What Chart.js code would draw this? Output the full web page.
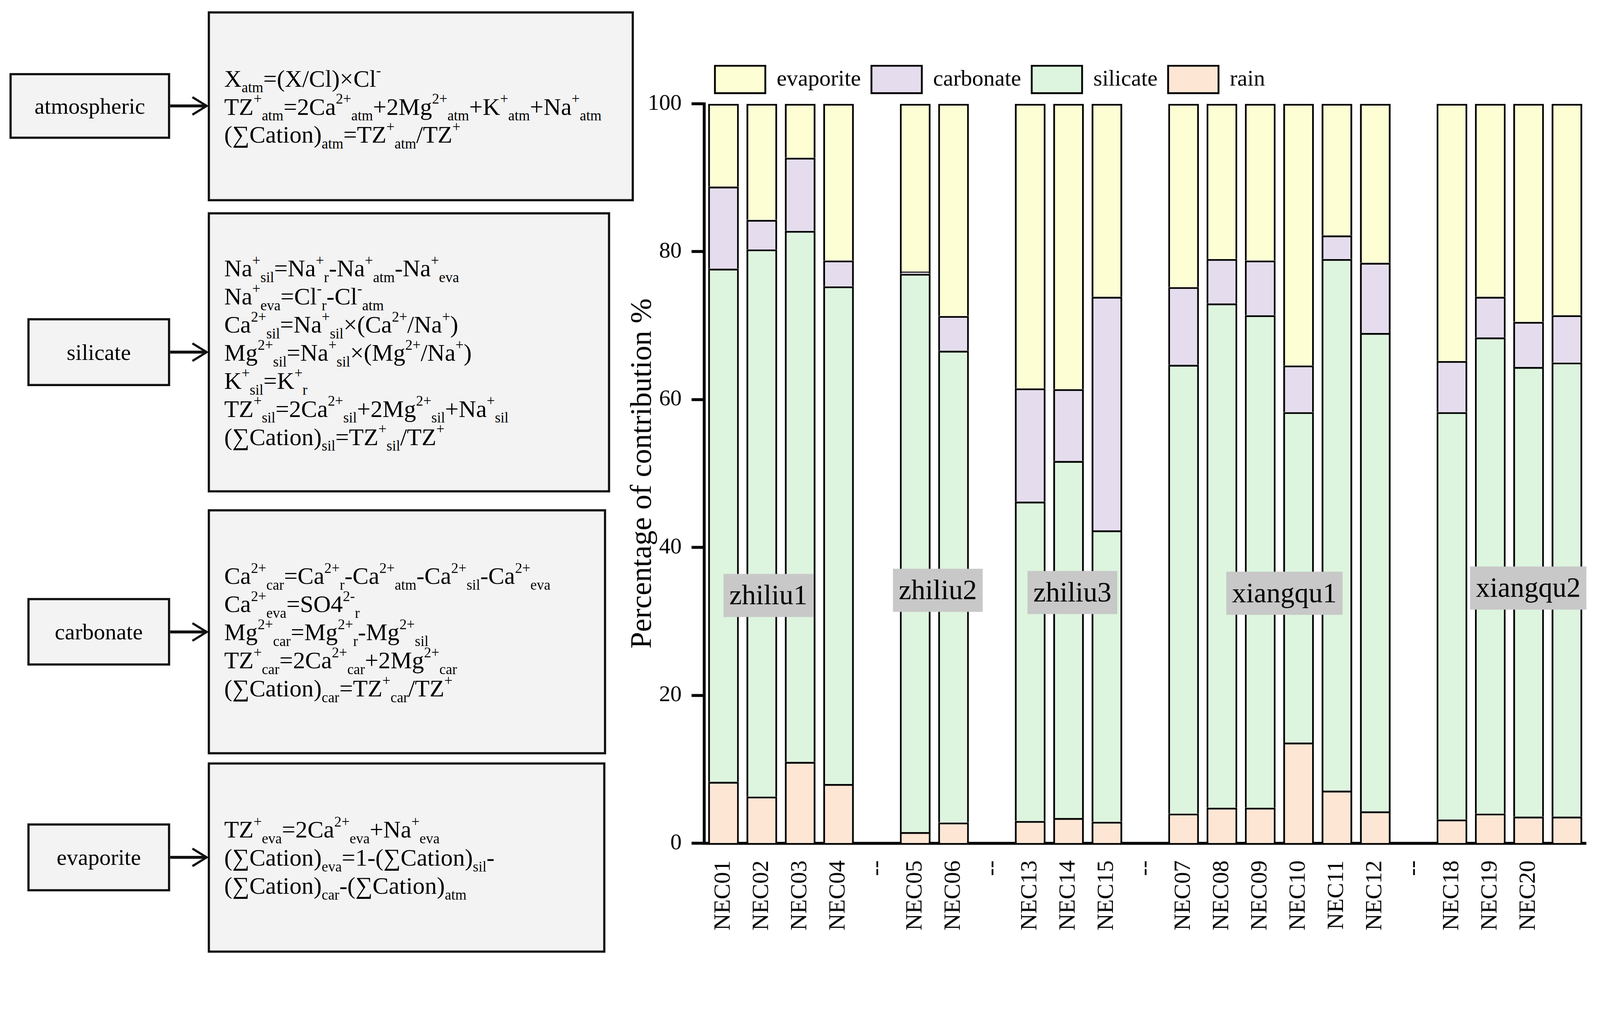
<!DOCTYPE html>
<html>
<head>
<meta charset="utf-8">
<script src="https://cdn.jsdelivr.net/npm/chart.js@4.4.0/dist/chart.umd.min.js"></script>
<style>
html, body { margin: 0; padding: 0; background: #fff; overflow: hidden; }
body { font-family: 'Liberation Serif', 'Times New Roman', serif; color: #000; }
#page { position: absolute; left: 0; top: 0; width: 4382px; height: 2633px; transform-origin: 0 0; }
.box { position: absolute; box-sizing: border-box; border: 6px solid #111; background: #f3f3f3; }
.tag { display: flex; align-items: center; justify-content: center; font-size: 62px; }
.eq { display: flex; flex-direction: column; justify-content: center; padding-left: 39px;
      font-size: 66px; line-height: 77px; white-space: nowrap; }
.eq sub, .eq sup { font-size: 60%; line-height: 0; position: relative; vertical-align: baseline; }
.eq sup { top: -0.75em; }
.eq sub { top: 0.4em; }
#arrows { position: absolute; left: 0; top: 0; }
#wrap { position: absolute; left: 1700px; top: 0; width: 2682px; height: 2633px; }
</style>
</head>
<body>
<div id="page">

<div class="box tag" style="left:26px;top:200px;width:440px;height:180px;">atmospheric</div>
<div class="box eq" style="left:569px;top:31px;width:1167px;height:520px;">
  <div>X<sub>atm</sub>=(X/Cl)×Cl<sup>-</sup></div>
  <div>TZ<sup>+</sup><sub>atm</sub>=2Ca<sup>2+</sup><sub>atm</sub>+2Mg<sup>2+</sup><sub>atm</sub>+K<sup>+</sup><sub>atm</sub>+Na<sup>+</sup><sub>atm</sub></div>
  <div>(∑Cation)<sub>atm</sub>=TZ<sup>+</sup><sub>atm</sub>/TZ<sup>+</sup></div>
</div>

<div class="box tag" style="left:75px;top:871px;width:391px;height:186px;">silicate</div>
<div class="box eq" style="left:569px;top:581px;width:1102px;height:767px;">
  <div>Na<sup>+</sup><sub>sil</sub>=Na<sup>+</sup><sub>r</sub>-Na<sup>+</sup><sub>atm</sub>-Na<sup>+</sup><sub>eva</sub></div>
  <div>Na<sup>+</sup><sub>eva</sub>=Cl<sup>-</sup><sub>r</sub>-Cl<sup>-</sup><sub>atm</sub></div>
  <div>Ca<sup>2+</sup><sub>sil</sub>=Na<sup>+</sup><sub>sil</sub>×(Ca<sup>2+</sup>/Na<sup>+</sup>)</div>
  <div>Mg<sup>2+</sup><sub>sil</sub>=Na<sup>+</sup><sub>sil</sub>×(Mg<sup>2+</sup>/Na<sup>+</sup>)</div>
  <div>K<sup>+</sup><sub>sil</sub>=K<sup>+</sup><sub>r</sub></div>
  <div>TZ<sup>+</sup><sub>sil</sub>=2Ca<sup>2+</sup><sub>sil</sub>+2Mg<sup>2+</sup><sub>sil</sub>+Na<sup>+</sup><sub>sil</sub></div>
  <div>(∑Cation)<sub>sil</sub>=TZ<sup>+</sup><sub>sil</sub>/TZ<sup>+</sup></div>
</div>

<div class="box tag" style="left:75px;top:1637px;width:391px;height:185px;">carbonate</div>
<div class="box eq" style="left:569px;top:1394px;width:1091px;height:671px;">
  <div>Ca<sup>2+</sup><sub>car</sub>=Ca<sup>2+</sup><sub>r</sub>-Ca<sup>2+</sup><sub>atm</sub>-Ca<sup>2+</sup><sub>sil</sub>-Ca<sup>2+</sup><sub>eva</sub></div>
  <div>Ca<sup>2+</sup><sub>eva</sub>=SO4<sup>2-</sup><sub>r</sub></div>
  <div>Mg<sup>2+</sup><sub>car</sub>=Mg<sup>2+</sup><sub>r</sub>-Mg<sup>2+</sup><sub>sil</sub></div>
  <div>TZ<sup>+</sup><sub>car</sub>=2Ca<sup>2+</sup><sub>car</sub>+2Mg<sup>2+</sup><sub>car</sub></div>
  <div>(∑Cation)<sub>car</sub>=TZ<sup>+</sup><sub>car</sub>/TZ<sup>+</sup></div>
</div>

<div class="box tag" style="left:75px;top:2254px;width:391px;height:186px;">evaporite</div>
<div class="box eq" style="left:569px;top:2087px;width:1089px;height:521px;">
  <div>TZ<sup>+</sup><sub>eva</sub>=2Ca<sup>2+</sup><sub>eva</sub>+Na<sup>+</sup><sub>eva</sub></div>
  <div>(∑Cation)<sub>eva</sub>=1-(∑Cation)<sub>sil</sub>-</div>
  <div>(∑Cation)<sub>car</sub>-(∑Cation)<sub>atm</sub></div>
</div>

<svg id="arrows" width="1700" height="2633">
  <g stroke="#111" fill="none" stroke-width="8">
    <line x1="466" y1="290" x2="566" y2="290"/>
    <polyline points="527,266 566,290 527,314" stroke-width="6"/>
    <line x1="466" y1="964" x2="566" y2="964"/>
    <polyline points="527,940 566,964 527,988" stroke-width="6"/>
    <line x1="466" y1="1730" x2="566" y2="1730"/>
    <polyline points="527,1706 566,1730 527,1754" stroke-width="6"/>
    <line x1="466" y1="2347" x2="566" y2="2347"/>
    <polyline points="527,2323 566,2347 527,2371" stroke-width="6"/>
  </g>
</svg>

<div id="wrap"><canvas id="chart" width="2682" height="2633"></canvas></div>
</div>

<script>
var sampleLabels = ['NEC01', 'NEC02', 'NEC03', 'NEC04', '--', 'NEC05', 'NEC06', '--',
    'NEC13', 'NEC14', 'NEC15', '--', 'NEC07', 'NEC08', 'NEC09', 'NEC10', 'NEC11', 'NEC12', '--',
    'NEC18', 'NEC19', 'NEC20', ''];

var rain      = [8.3, 6.3, 11.0, 8.0, null, 1.5, 2.8, null, 3.0, 3.4, 2.9, null, 4.0, 4.8, 4.8, 13.6, 7.1, 4.3, null, 3.2, 4.0, 3.6, 3.6];
var silicate  = [69.4, 74.0, 71.8, 67.3, null, 75.5, 63.8, null, 43.2, 48.3, 39.4, null, 60.7, 68.2, 66.6, 44.7, 71.9, 64.7, null, 55.1, 64.4, 60.8, 61.4];
var carbonate = [11.1, 4.0, 9.9, 3.5, null, 0.3, 4.7, null, 15.3, 9.7, 31.6, null, 10.5, 6.0, 7.4, 6.3, 3.2, 9.5, null, 6.9, 5.5, 6.1, 6.4];
var evaporite = [11.2, 15.7, 7.3, 21.2, null, 22.7, 28.7, null, 38.5, 38.6, 26.1, null, 24.8, 21.0, 21.2, 35.4, 17.8, 21.5, null, 34.8, 26.1, 29.5, 28.6];

// group tags: name, position along the category axis (slot index), height on the value axis
var groupNames = ['zhiliu1', 'zhiliu2', 'zhiliu3', 'xiangqu1', 'xiangqu2'];
var groupAt    = [1.17, 5.59, 9.1, 14.63, 20.99];
var groupLevel = [33.5, 34.2, 33.9, 33.8, 34.5];

var serif = "'Liberation Serif', 'Times New Roman', serif";

// the page is laid out at 4382 x 2633 and fitted to whatever viewport we get
var fit = Math.min(window.innerWidth / 4382, window.innerHeight / 2633);
document.getElementById('page').style.transform = 'scale(' + fit + ')';

// extra room between the legend and the plot
var legendGap = {
    id: 'legendGap',
    beforeInit: function(chart) {
        var legendFit = chart.legend.fit;
        chart.legend.fit = function() {
            legendFit.call(this);
            this.height += 19;
        };
    }
};

var groupTags = {
    id: 'groupTags',
    afterDatasetsDraw: function(chart) {
        var ctx = chart.ctx;
        var xs = chart.scales.x, ys = chart.scales.y;
        var step = xs.getPixelForValue(1) - xs.getPixelForValue(0);
        ctx.save();
        ctx.font = '77px ' + serif;
        ctx.textAlign = 'center';
        ctx.textBaseline = 'middle';
        groupNames.forEach(function(name, i) {
            var cx = xs.getPixelForValue(0) + groupAt[i] * step;
            var cy = ys.getPixelForValue(groupLevel[i]);
            var w = ctx.measureText(name).width + 32, h = 118;
            ctx.fillStyle = '#c8c8c8';
            ctx.fillRect(cx - w / 2, cy - h / 2, w, h);
            ctx.fillStyle = '#000';
            ctx.fillText(name, cx, cy + 4);
        });
        ctx.restore();
    }
};

var chart = new Chart(document.getElementById('chart').getContext('2d'), {
    type: 'bar',
    data: {
        labels: sampleLabels,
        datasets: [
            { label: 'rain', data: rain, backgroundColor: '#fee6d5', borderColor: '#000', borderWidth: 5 },
            { label: 'silicate', data: silicate, backgroundColor: '#ddf5de', borderColor: '#000', borderWidth: 5 },
            { label: 'carbonate', data: carbonate, backgroundColor: '#e5ddee', borderColor: '#000', borderWidth: 5 },
            { label: 'evaporite', data: evaporite, backgroundColor: '#fefed5', borderColor: '#000', borderWidth: 5 }
        ]
    },
    options: {
        responsive: false,
        animation: false,
        devicePixelRatio: (window.devicePixelRatio || 1) * fit,
        layout: {
            padding: { top: 151, left: 0, right: 38, bottom: 0 }
        },
        datasets: {
            bar: { barPercentage: 0.8, categoryPercentage: 1 }
        },
        plugins: {
            legend: {
                position: 'top',
                align: 'start',
                fullSize: false,
                reverse: true,
                labels: {
                    boxWidth: 138,
                    boxHeight: 75,
                    padding: 29,
                    color: '#000',
                    font: { family: serif, size: 62 }
                }
            },
            tooltip: { enabled: false }
        },
        scales: {
            x: {
                stacked: true,
                grid: { display: false, drawTicks: false },
                border: { display: true, color: '#000', width: 8 },
                ticks: {
                    color: '#000',
                    font: { family: serif, size: 64 },
                    minRotation: 90,
                    maxRotation: 90,
                    autoSkip: false,
                    padding: 47
                },
                afterFit: function(s) {
                    s.height = 325;
                    s.paddingRight = 0; // the empty last label needs no room
                }
            },
            y: {
                stacked: true,
                min: 0,
                max: 100,
                border: { display: true, color: '#000', width: 8 },
                grid: { drawOnChartArea: false, drawTicks: true, tickLength: 35, tickWidth: 8, tickColor: '#000' },
                ticks: {
                    stepSize: 20,
                    padding: 27,
                    color: '#000',
                    font: { family: serif, size: 62 }
                },
                title: {
                    display: true,
                    text: 'Percentage of contribution %',
                    color: '#000',
                    font: { family: serif, size: 82 },
                    padding: { top: 12, bottom: 0 }
                },
                afterFit: function(s) { s.width = 229; }
            }
        }
    },
    plugins: [legendGap, groupTags]
});
</script>
</body>
</html>
